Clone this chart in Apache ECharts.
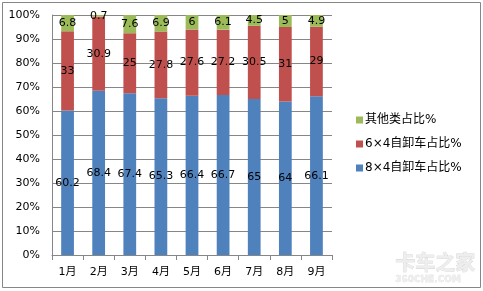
<!DOCTYPE html>
<html><head><meta charset="utf-8">
<script src="https://cdn.jsdelivr.net/npm/echarts@6/dist/echarts.min.js"></script>
<style>html,body{margin:0;padding:0;background:#fff}#c{width:483px;height:291px}</style>
</head><body><div id="c"></div>
<script>
var categories = ['1月','2月','3月','4月','5月','6月','7月','8月','9月'];
var s84 = [60.2, 68.4, 67.4, 65.3, 66.4, 66.7, 65, 64, 66.1];
var s64 = [33, 30.9, 25, 27.8, 27.6, 27.2, 30.5, 31, 29];
var other = [6.8, 0.7, 7.6, 6.9, 6, 6.1, 4.5, 5, 4.9];
var yTicks = [0,10,20,30,40,50,60,70,80,90,100];
var names = ['8×4自卸车占比%','6×4自卸车占比%','其他类占比%'];
var colors = ['#4F81BD','#C0504D','#9BBB59'];
var font = '"DejaVu Sans", "Noto Sans CJK SC", sans-serif';

var chart = echarts.init(document.getElementById('c'), null, {renderer:'canvas'});
function mk(i, data){
  return {
    name: names[i], type:'bar', stack:'all', data:data, barWidth:'41%',
    itemStyle:{color:colors[i]},
    label:{show:true, position:'inside', color:'#000', fontSize:11, fontFamily:font},
    animation:false
  };
}
chart.setOption({
  animation:false,
  textStyle:{fontFamily:font},
  grid:{left:52, top:15, width:280, height:240, containLabel:false},
  legend:{
    orient:'vertical', left:351, top:109,
    itemWidth:7, itemHeight:7, itemGap:12,
    icon:'rect',
    data:[names[2], names[1], names[0]],
    textStyle:{fontSize:12, color:'#000', fontFamily:font, padding:[0,0,0,-3]}
  },
  xAxis:{
    type:'category', data:categories,
    axisLine:{lineStyle:{color:'#868686'}},
    axisTick:{show:true, length:5, lineStyle:{color:'#868686'}},
    axisLabel:{color:'#000', fontSize:11, margin:12, fontFamily:font}
  },
  yAxis:{
    type:'value', min:0, max:100, interval:10,
    axisLine:{show:true, lineStyle:{color:'#868686'}},
    axisTick:{show:false},
    splitLine:{lineStyle:{color:'#868686'}},
    axisLabel:{color:'#000', fontSize:11, margin:12, fontFamily:font,
      formatter:function(v){ return yTicks.indexOf(v)>=0 ? v+'%' : ''; }}
  },
  series:[mk(0,s84), mk(1,s64), mk(2,other)],
  graphic:[
    {type:'rect', shape:{x:2.5,y:2.5,width:478,height:285}, style:{fill:'none', stroke:'#868686', lineWidth:1}, silent:true, z:-1},
    {type:'text', left:395, top:252, style:{text:'卡车之家', fontSize:20, fontWeight:'bold', fill:'#eeeeee', stroke:'#cfcfcf', lineWidth:0.6, fontFamily:'"Noto Sans CJK SC", sans-serif'}},
    {type:'text', left:395, top:275, style:{text:'360CHE.COM', fontSize:9, fontWeight:'bold', fill:'#eeeeee', stroke:'#cfcfcf', lineWidth:0.3, fontFamily:font}}
  ]
});
</script></body></html>
